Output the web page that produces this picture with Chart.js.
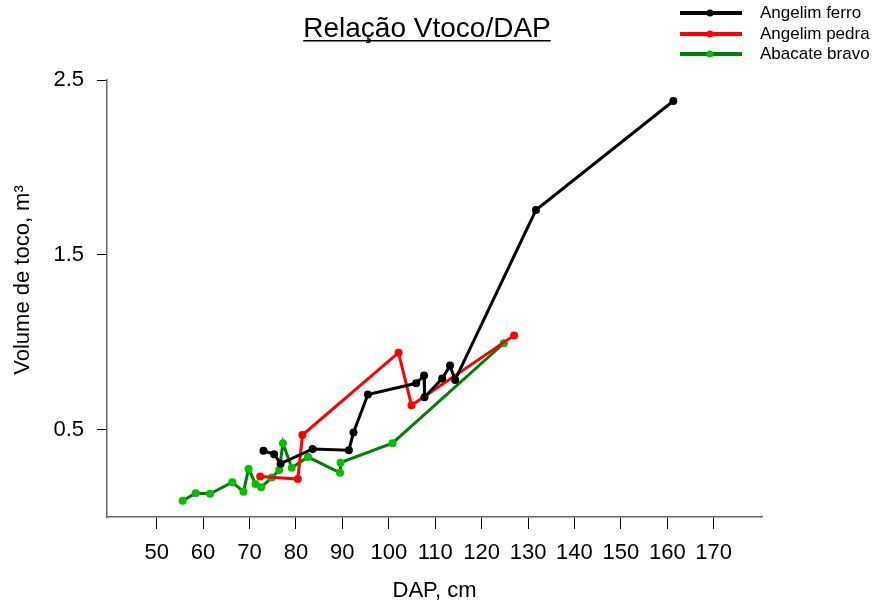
<!DOCTYPE html>
<html>
<head>
<meta charset="utf-8">
<script src="https://cdn.jsdelivr.net/npm/chart.js@4.4.1/dist/chart.umd.min.js"></script>
<style>
  html, body { margin: 0; padding: 0; background: #fff; }
  #wrap { width: 874px; height: 604px; position: relative; }
</style>
</head>
<body>
<div id="wrap"><canvas id="chart"></canvas></div>
<script>
// DAP (cm) and stump volume (m3)
const ferroDap = [73.0, 75.3, 76.7, 83.6, 91.4, 92.4, 95.5, 105.9, 107.6, 107.7, 111.5, 113.2, 114.3, 131.7, 161.3];
const ferroVol = [0.379, 0.359, 0.305, 0.389, 0.382, 0.483, 0.701, 0.765, 0.809, 0.685, 0.792, 0.866, 0.784, 1.756, 2.380];

const pedraDap = [72.3, 80.4, 81.4, 102.1, 104.9, 127.0];
const pedraVol = [0.231, 0.217, 0.469, 0.940, 0.639, 1.039];

const bravoDap = [55.6, 58.4, 61.5, 66.3, 68.7, 69.8, 71.3, 72.5, 74.8, 76.4, 77.2, 79.1, 82.6, 89.5, 89.6, 100.8, 124.8];
const bravoVol = [0.093, 0.136, 0.133, 0.199, 0.145, 0.275, 0.189, 0.170, 0.226, 0.269, 0.422, 0.282, 0.343, 0.253, 0.311, 0.422, 0.994];

const xTicks = [50, 60, 70, 80, 90, 100, 110, 120, 130, 140, 150, 160, 170];
const yTicks = [0.5, 1.5, 2.5];

const seriesNames = ['Angelim ferro', 'Angelim pedra', 'Abacate bravo'];
const lineColors = ['#000000', '#ff0000', '#008000'];
const dotColors = ['#000000', '#ff0000', '#00c000'];

function pts(xs, ys) {
  return xs.map((x, i) => ({ x: x, y: ys[i] }));
}

const fontFam = 'Arial, "Liberation Sans", sans-serif';

// title with underline, y axis title, legend with line/dot markers
const decor = {
  id: 'decor',
  afterDraw(chart) {
    const ctx = chart.ctx;
    ctx.save();
    ctx.fillStyle = '#000';
    ctx.font = '28px ' + fontFam;
    ctx.textAlign = 'center';
    ctx.textBaseline = 'alphabetic';
    const title = 'Relação Vtoco/DAP';
    ctx.fillText(title, 427, 37);
    const w = ctx.measureText(title).width;
    ctx.fillRect(427 - w / 2, 40, w, 1.5);

    // y title, rotated
    ctx.save();
    ctx.translate(23, 280);
    ctx.rotate(-Math.PI / 2);
    ctx.font = '22px ' + fontFam;
    ctx.textAlign = 'center';
    ctx.textBaseline = 'middle';
    ctx.fillText('Volume de toco, m³', 0, 0);
    ctx.restore();

    const rowsY = [13, 34, 54];
    ctx.font = '17px ' + fontFam;
    ctx.textAlign = 'left';
    ctx.textBaseline = 'middle';
    seriesNames.forEach((name, i) => {
      const y = rowsY[i];
      ctx.strokeStyle = lineColors[i];
      ctx.lineWidth = 4;
      ctx.beginPath();
      ctx.moveTo(680, y);
      ctx.lineTo(742, y);
      ctx.stroke();
      ctx.fillStyle = dotColors[i];
      ctx.beginPath();
      ctx.arc(710, y, 3.5, 0, Math.PI * 2);
      ctx.fill();
      ctx.fillStyle = '#000';
      ctx.fillText(name, 760, y);
    });
    ctx.restore();
  }
};

const ctx = document.getElementById('chart');
new Chart(ctx, {
  type: 'scatter',
  data: {
    datasets: [
      { label: seriesNames[0], data: pts(ferroDap, ferroVol) },
      { label: seriesNames[1], data: pts(pedraDap, pedraVol) },
      { label: seriesNames[2], data: pts(bravoDap, bravoVol) }
    ].map((d, i) => Object.assign(d, {
      showLine: true,
      borderColor: lineColors[i],
      borderWidth: 3,
      backgroundColor: dotColors[i],
      pointBackgroundColor: dotColors[i],
      pointBorderColor: dotColors[i],
      pointRadius: 4,
      pointBorderWidth: 0,
      tension: 0
    }))
  },
  options: {
    responsive: true,
    maintainAspectRatio: false,
    animation: false,
    layout: { padding: { top: 80, right: 112, left: 0, bottom: 0 } },
    plugins: {
      legend: { display: false },
      tooltip: { enabled: false },
      title: { display: false }
    },
    scales: {
      x: {
        type: 'linear',
        min: 39.3,
        max: 180.4,
        afterBuildTicks: (scale) => { scale.ticks = xTicks.map(v => ({ value: v })); },
        afterFit: (scale) => { scale.height = 87; },
        grid: { drawOnChartArea: false, drawTicks: true, tickLength: 12, color: '#000' },
        border: { display: true, color: '#666', width: 1.5 },
        ticks: { color: '#000', padding: 11, font: { size: 22, family: fontFam }, maxRotation: 0, autoSkip: false },
        title: { display: true, text: 'DAP, cm', color: '#000', font: { size: 22, family: fontFam }, padding: { top: 0, bottom: 0 } }
      },
      y: {
        type: 'linear',
        min: 0,
        max: 2.5,
        afterBuildTicks: (scale) => { scale.ticks = yTicks.map(v => ({ value: v })); },
        afterFit: (scale) => { scale.width = 107; },
        grid: { drawOnChartArea: false, drawTicks: true, tickLength: 10, color: '#000' },
        border: { display: true, color: '#666', width: 1.5 },
        ticks: { color: '#000', padding: 13, font: { size: 22, family: fontFam }, callback: (v) => v.toFixed(1) },
        title: { display: false }
      }
    }
  },
  plugins: [decor]
});
</script>
</body>
</html>
